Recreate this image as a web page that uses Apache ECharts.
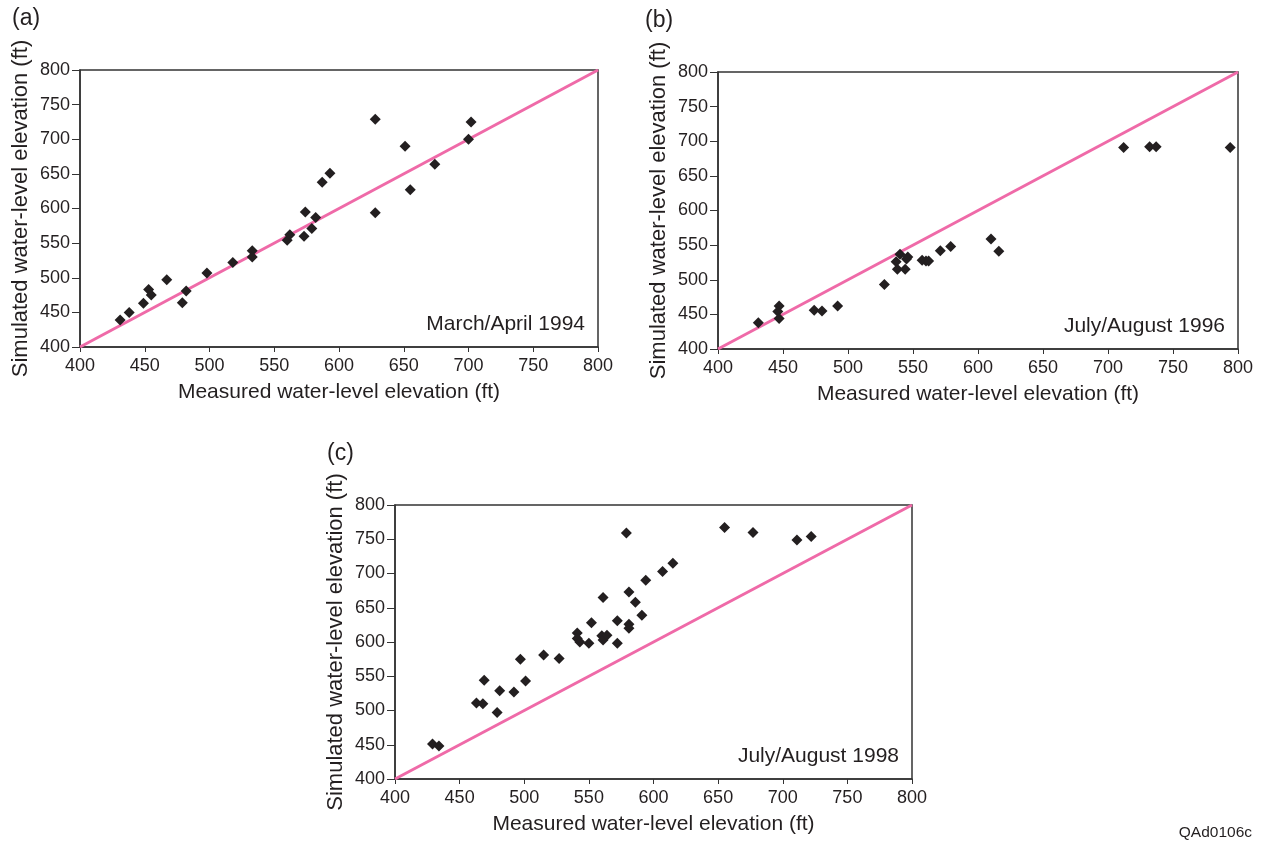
<!DOCTYPE html>
<html>
<head>
<meta charset="utf-8">
<script src="https://cdn.jsdelivr.net/npm/echarts@6/dist/echarts.min.js"></script>
<style>html,body{margin:0;padding:0;background:#fff;}#chart{width:1266px;height:843px;}</style>
</head>
<body>
<div id="chart"></div>
<script>
// Panel labels and annotations
const panelLabels = ['(a)', '(b)', '(c)'];
const periodLabels = ['March/April 1994', 'July/August 1996', 'July/August 1998'];
const xAxisTitle = 'Measured water-level elevation (ft)';
const yAxisTitle = 'Simulated water-level elevation (ft)';
const axisMin = 400, axisMax = 800, axisStep = 50;
const oneToOneLine = [[400, 400], [800, 800]];

// (a) March/April 1994: [measured, simulated]
const dataA = [
  [431, 439], [438, 450], [449, 463], [453, 483], [455, 475], [467, 497],
  [479, 464], [482, 481], [498, 507], [518, 522], [533, 539], [533, 530],
  [560, 554], [562, 562], [573, 560], [574, 595], [579, 571], [582, 587],
  [587, 638], [593, 651], [628, 729], [628, 594], [651, 690], [655, 627],
  [674, 664], [700, 700], [702, 725]
];

// (b) July/August 1996
const dataB = [
  [431, 438], [447, 462], [446, 454], [447, 444], [474, 456], [480, 455],
  [492, 462], [528, 493], [537, 526], [538, 515], [540, 537], [545, 530],
  [546, 533], [544, 515], [557, 528], [560, 527], [562, 527], [571, 542],
  [579, 548], [610, 559], [616, 541], [712, 691], [732, 692], [737, 692],
  [794, 691]
];

// (c) July/August 1998
const dataC = [
  [429, 451], [434, 448], [463, 511], [468, 510], [469, 544], [479, 497],
  [481, 529], [492, 527], [497, 575], [501, 543], [515, 581], [527, 576],
  [541, 613], [541, 605], [543, 600], [550, 598], [552, 628], [560, 609],
  [561, 665], [561, 603], [564, 610], [572, 598], [572, 631], [579, 759],
  [581, 673], [581, 626], [581, 620], [586, 658], [591, 639], [594, 690],
  [607, 703], [615, 715], [655, 767], [677, 760], [711, 749], [722, 754]
];

const seriesData = [dataA, dataB, dataC];
const grids = [
  {left: 80, top: 70, width: 518, height: 277},
  {left: 718, top: 72, width: 520, height: 277},
  {left: 395, top: 505, width: 517, height: 274}
];

const txt = '#231f20';
const font = 'Liberation Sans, Arial, Helvetica, sans-serif';

function axisCommon(isY) {
  return {
    type: 'value', min: axisMin, max: axisMax, interval: axisStep,
    axisLine: {show: true, onZero: false, lineStyle: {color: '#333', width: 1.5}},
    axisTick: {show: true, length: isY ? 8 : 5, lineStyle: {color: '#333', width: 1}},
    axisLabel: {color: txt, fontSize: 18, fontFamily: font, margin: 10},
    splitLine: {show: false},
    name: isY ? yAxisTitle : xAxisTitle,
    nameLocation: 'middle',
    nameGap: isY ? 48 : 35,
    nameTextStyle: {color: txt, fontSize: isY ? 22 : 21, fontFamily: font}
  };
}

const option = {
  backgroundColor: '#fff',
  animation: false,
  grid: grids.map(g => Object.assign({show: true, borderColor: '#333', borderWidth: 1.5, backgroundColor: 'transparent'}, g)),
  xAxis: grids.map((g, i) => Object.assign(axisCommon(false), {gridIndex: i})),
  yAxis: grids.map((g, i) => Object.assign(axisCommon(true), {gridIndex: i})),
  series: [],
  graphic: []
};

seriesData.forEach((d, i) => {
  option.series.push({
    type: 'line', xAxisIndex: i, yAxisIndex: i, data: oneToOneLine,
    symbol: 'none', lineStyle: {color: '#ef6aa8', width: 3}, z: 1, silent: true
  });
  option.series.push({
    type: 'scatter', xAxisIndex: i, yAxisIndex: i, data: d,
    symbol: 'diamond', symbolSize: 11, itemStyle: {color: '#231f20', opacity: 1}, z: 3
  });
  const g = grids[i];
  option.graphic.push({
    type: 'text', left: g.left - (i === 1 ? 73 : 68), top: g.top - 63,
    style: {text: panelLabels[i], fill: txt, font: '23px ' + font}
  });
  option.graphic.push({
    type: 'text', right: 1266 - (g.left + g.width) + 13, top: g.top + g.height - 33,
    style: {text: periodLabels[i], fill: txt, font: '21px ' + font}
  });
});

option.graphic.push({
  type: 'text', right: 14, top: 825,
  style: {text: 'QAd0106c', fill: txt, font: '15.5px ' + font}
});

const chart = echarts.init(document.getElementById('chart'), null, {renderer: 'canvas'});
chart.setOption(option);
</script>
</body>
</html>
